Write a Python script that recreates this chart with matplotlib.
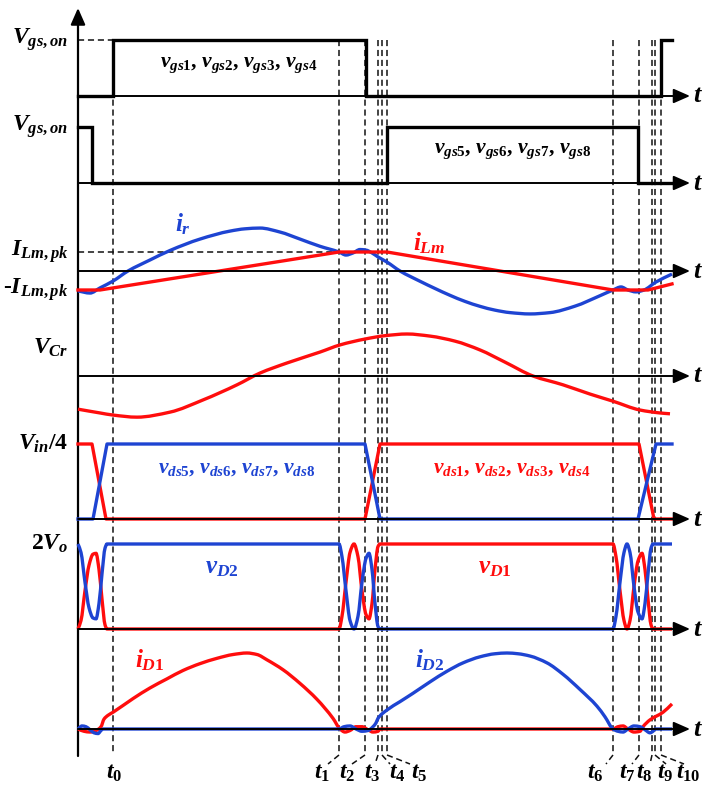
import numpy as np
import matplotlib.pyplot as plt
from matplotlib.path import Path
from matplotlib.patches import PathPatch

plt.rcParams['font.family'] = ['Liberation Serif', 'DejaVu Serif']
plt.rcParams['font.weight'] = 'bold'
plt.rcParams['mathtext.fontset'] = 'custom'
plt.rcParams['mathtext.rm'] = 'Liberation Serif:bold'
plt.rcParams['mathtext.it'] = 'Liberation Serif:italic:bold'
plt.rcParams['mathtext.bf'] = 'Liberation Serif:bold'

RED = '#ff0d0d'
BLUE = '#1e44d2'

# ---------------- data (time in arbitrary units, 0 = vertical axis) ----------------
t_marks = [35, 261, 287, 300, 304, 309, 535, 561, 574, 577, 583]
t_names = [r'$t_0$', r'$t_1$', r'$t_2$', r'$t_3$', r'$t_4$', r'$t_5$',
           r'$t_6$', r'$t_7$', r'$t_8$', r'$t_9$', r'$t_{10}$']

# gate signals (normalised to V_gs,on)
gate14_t = [0, 35, 35, 288, 288, 583, 583, 594]
gate14_v = [0, 0, 1, 1, 0, 0, 1, 1]
gate58_t = [0, 14, 14, 309, 309, 560, 560, 594]
gate58_v = [1, 1, 0, 0, 1, 1, 0, 0]

# currents (normalised to I_Lm,pk)
ir_t = [0, 12, 22, 35, 50, 72, 92, 122, 152, 167, 182, 202, 222, 242, 261, 268, 275,
        282, 288, 294, 300, 309, 322, 342, 357, 372, 387, 402, 417, 432, 452, 472,
        497, 522, 535, 543, 550, 558, 566, 578, 594]
ir_v = [-1.05, -1.16, -0.89, -0.53, 0.0, 0.58, 1.08, 1.68, 2.1, 2.22, 2.26, 2.05, 1.68,
        1.3, 1.0, 0.84, 0.95, 1.13, 1.1, 0.95, 0.74, 0.47, 0.0, -0.54, -0.92, -1.28,
        -1.6, -1.86, -2.06, -2.19, -2.26, -2.19, -1.85, -1.3, -1.0, -0.84, -1.0, -1.1,
        -1.0, -0.58, -0.16]
ilm_t = [0, 22, 261, 309, 535, 570, 594]
ilm_v = [-1.0, -1.0, 1.0, 1.0, -1.0, -1.0, -0.68]

# resonant capacitor voltage (normalised to its peak)
vcr_t = [0, 22, 35, 59, 92, 125, 159, 182, 209, 242, 262, 287, 307, 329, 352, 377,
         402, 427, 455, 485, 512, 535, 562, 582, 592]
vcr_v = [-0.79, -0.88, -0.93, -0.98, -0.86, -0.57, -0.21, 0.07, 0.31, 0.57, 0.74, 0.88,
         0.96, 1.0, 0.95, 0.83, 0.62, 0.33, 0.0, -0.21, -0.43, -0.6, -0.81, -0.88, -0.9]

# switch drain-source voltages (normalised to V_in/4)
vds14_t = [0, 14, 28, 287, 302, 561, 576, 594]
vds14_v = [1, 1, 0, 0, 1, 1, 0, 0]
vds58_t = [0, 15, 29, 287, 302, 560, 578, 594]
vds58_v = [0, 0, 1, 1, 0, 0, 1, 1]

# diode voltages (normalised to 2V_o)
vd1_t = [0, 3, 7, 11, 15, 18, 21, 24, 27, 29, 261, 264, 268, 272, 276, 280, 284, 288,
         291, 294, 297, 300, 302, 535, 538, 542, 546, 549, 552, 556, 560, 564, 567, 570,
         573, 575, 594]
vd1_v = [0, 0.1, 0.45, 0.75, 0.88, 0.89, 0.7, 0.35, 0.05, 0, 0, 0.15, 0.55, 0.9, 1.0,
         0.85, 0.45, 0.17, 0.12, 0.3, 0.7, 0.97, 1.0, 1.0, 0.85, 0.45, 0.1, 0.0, 0.1,
         0.5, 0.8, 0.89, 0.7, 0.35, 0.05, 0, 0]
vd2_t = [0, 3, 7, 11, 15, 18, 21, 24, 27, 29, 261, 264, 268, 272, 276, 280, 284, 288,
         291, 294, 297, 300, 302, 535, 538, 542, 546, 549, 552, 556, 560, 564, 567, 570,
         573, 575, 594]
vd2_v = [1.0, 0.9, 0.55, 0.25, 0.13, 0.12, 0.3, 0.65, 0.95, 1.0, 1.0, 0.85, 0.45, 0.1,
         0.0, 0.15, 0.55, 0.83, 0.89, 0.7, 0.3, 0.03, 0, 0, 0.15, 0.55, 0.9, 1.0, 0.9,
         0.5, 0.2, 0.12, 0.3, 0.65, 0.95, 1.0, 1.0]

# diode currents (normalised to their peak)
id1_t = [0, 6, 12, 18, 23, 26, 30, 35, 55, 72, 89, 105, 122, 139, 155, 169, 179, 189,
         205, 222, 239, 255, 262, 267, 272, 278, 284, 290, 295, 300, 302, 307, 535, 540,
         545, 550, 556, 562, 565, 572, 585, 594]
id1_v = [0, -0.03, -0.04, -0.02, 0.03, 0.13, 0.18, 0.22, 0.40, 0.54, 0.66, 0.77, 0.86,
         0.93, 0.98, 1.0, 0.98, 0.91, 0.78, 0.6, 0.39, 0.14, 0.0, -0.04, -0.02, 0.03,
         0.03, -0.01, -0.04, -0.03, 0.0, 0.0, 0.0, 0.03, 0.04, 0.0, -0.04, -0.03, 0.03,
         0.12, 0.22, 0.33]
id2_t = [0, 4, 8, 12, 16, 20, 23, 25, 261, 266, 272, 278, 284, 290, 295, 298, 300, 309,
         322, 335, 352, 369, 385, 402, 417, 429, 440, 452, 469, 485, 502, 519, 527, 535,
         540, 545, 550, 556, 562, 567, 572, 575, 577, 594]
id2_v = [0, 0.04, 0.03, -0.01, -0.05, -0.06, -0.02, 0, 0, 0.03, 0.04, 0.0, -0.03, -0.02,
         0.03, 0.08, 0.14, 0.25, 0.36, 0.47, 0.62, 0.76, 0.87, 0.95, 0.99, 1.0, 0.99,
         0.96, 0.87, 0.72, 0.52, 0.3, 0.16, 0.0, -0.03, -0.04, 0.0, 0.04, 0.03, -0.01,
         -0.05, -0.03, 0, 0]

# ---------------- layout ----------------
W, H, DPI = 702, 785, 100
X0 = 78                      # pixel column of the vertical axis
XMIN, XMAX = -X0, W - X0
T_ARROW = 612                # tip of the horizontal arrows
# panel name -> (pixel row of zero, pixels per unit)
PANELS = {
    'g14': (96, 56), 'g58': (183, 56), 'cur': (271, 19), 'vcr': (376, 42),
    'vds': (519, 75), 'vd': (629, 85), 'id': (729, 76),
}
LW = 2.4
ARROW = '-|>,head_length=0.5,head_width=0.22'

fig = plt.figure(figsize=(W / DPI, H / DPI), dpi=DPI)

# overlay axes in pixel rows for dashed markers and labels
ov = fig.add_axes([0, 0, 1, 1])
ov.set_xlim(XMIN, XMAX)
ov.set_ylim(H, 0)
ov.axis('off')

dash = dict(color='#111111', lw=1.1, ls=(0, (4, 2.5)), zorder=1)
for tm in t_marks:
    ov.plot([tm, tm], [40, 755], **dash)
ov.plot([0, t_marks[0]], [40, 40], **dash)
ov.plot([0, t_marks[1]], [252, 252], **dash)

# leaders to the time labels
leader_end = [None, 250, 274, 297, 312, 332, 528, 554, 572, 588, 606]
for tm, le in zip(t_marks, leader_end):
    if le is not None:
        ov.plot([tm, le], [755, 764], **dash)
label_left = [106, 314, 339, 364, 389, 411, 587, 619, 636, 657, 676]
for name, lx in zip(t_names, label_left):
    ov.text(lx - X0, 773, name, fontsize=17, ha='left', va='center')

# vertical axis
ov.annotate('', xy=(0, 8), xytext=(0, 756),
            arrowprops=dict(arrowstyle=ARROW, mutation_scale=20, color='black',
                            lw=1.6, shrinkA=0, shrinkB=0))


def panel(key):
    base, sc = PANELS[key]
    a = fig.add_axes([0, 0, 1, 1])
    a.set_xlim(XMIN, XMAX)
    a.set_ylim((base - H) / sc, base / sc)
    a.axis('off')
    a.patch.set_alpha(0)
    a.annotate('', xy=(T_ARROW, 0), xytext=(0, 0),
               arrowprops=dict(arrowstyle=ARROW, mutation_scale=20, color='black',
                               lw=1.4, shrinkA=0, shrinkB=0))
    a.text(T_ARROW + 8, 0, r'$t$', fontsize=19, ha='center', va='center')
    return a


def smooth(a, t, v, color):
    # monotone cubic (Fritsch-Carlson) through the read points, drawn as Bezier segments
    x = np.asarray(t, float)
    y = np.asarray(v, float)
    h = np.diff(x)
    d = np.diff(y) / h
    m = np.zeros_like(y)
    m[0], m[-1] = d[0], d[-1]
    for k in range(1, len(x) - 1):
        if d[k - 1] * d[k] > 0:
            w1 = 2 * h[k] + h[k - 1]
            w2 = h[k] + 2 * h[k - 1]
            m[k] = (w1 + w2) / (w1 / d[k - 1] + w2 / d[k])
    verts, codes = [(x[0], y[0])], [Path.MOVETO]
    for k in range(len(x) - 1):
        verts += [(x[k] + h[k] / 3, y[k] + m[k] * h[k] / 3),
                  (x[k + 1] - h[k] / 3, y[k + 1] - m[k + 1] * h[k] / 3),
                  (x[k + 1], y[k + 1])]
        codes += [Path.CURVE4] * 3
    a.add_patch(PathPatch(Path(verts, codes), fill=False, edgecolor=color, lw=LW,
                          capstyle='butt'))


lab = dict(fontsize=17, ha='right', va='center')
wl = dict(fontsize=15.5, ha='center', va='center')

a = panel('g14')
a.plot(gate14_t, gate14_v, color='black', lw=LW, solid_joinstyle='miter')
a.text(-10, 1, r'$V_{gs,on}$', **lab)
a.text(161, 0.55, r'$v_{gs1}$, $v_{gs2}$, $v_{gs3}$, $v_{gs4}$', **wl)

a = panel('g58')
a.plot(gate58_t, gate58_v, color='black', lw=LW, solid_joinstyle='miter')
a.text(-10, 1, r'$V_{gs,on}$', **lab)
a.text(435, 0.58, r'$v_{gs5}$, $v_{gs6}$, $v_{gs7}$, $v_{gs8}$', **wl)

a = panel('cur')
a.plot(ilm_t, ilm_v, color=RED, lw=LW)
smooth(a, ir_t, ir_v, BLUE)
a.text(-10, 1, r'$I_{Lm,pk}$', **lab)
a.text(-10, -1, r'-$I_{Lm,pk}$', **lab)
a.text(105, 2.45, r'$i_r$', color=BLUE, fontsize=18, ha='center', va='center')
a.text(351, 1.45, r'$i_{Lm}$', color=RED, fontsize=18, ha='center', va='center')

a = panel('vcr')
smooth(a, vcr_t, vcr_v, RED)
a.text(-10, 0.67, r'$V_{Cr}$', **lab)

a = panel('vds')
a.plot(vds14_t, vds14_v, color=RED, lw=LW)
a.plot(vds58_t, vds58_v, color=BLUE, lw=LW)
a.text(-10, 1, r'$V_{in}$/4', **lab)
a.text(159, 0.68, r'$v_{ds5}$, $v_{ds6}$, $v_{ds7}$, $v_{ds8}$', color=BLUE, **wl)
a.text(434, 0.68, r'$v_{ds1}$, $v_{ds2}$, $v_{ds3}$, $v_{ds4}$', color=RED, **wl)

a = panel('vd')
smooth(a, vd1_t, vd1_v, RED)
smooth(a, vd2_t, vd2_v, BLUE)
a.text(-10, 1, r'2$V_o$', **lab)
a.text(144, 0.72, r'$v_{D2}$', color=BLUE, fontsize=18, ha='center', va='center')
a.text(417, 0.72, r'$v_{D1}$', color=RED, fontsize=18, ha='center', va='center')

a = panel('id')
smooth(a, id1_t, id1_v, RED)
smooth(a, id2_t, id2_v, BLUE)
a.text(72, 0.9, r'$i_{D1}$', color=RED, fontsize=18, ha='center', va='center')
a.text(352, 0.9, r'$i_{D2}$', color=BLUE, fontsize=18, ha='center', va='center')

fig.savefig('out.png', dpi=DPI)
